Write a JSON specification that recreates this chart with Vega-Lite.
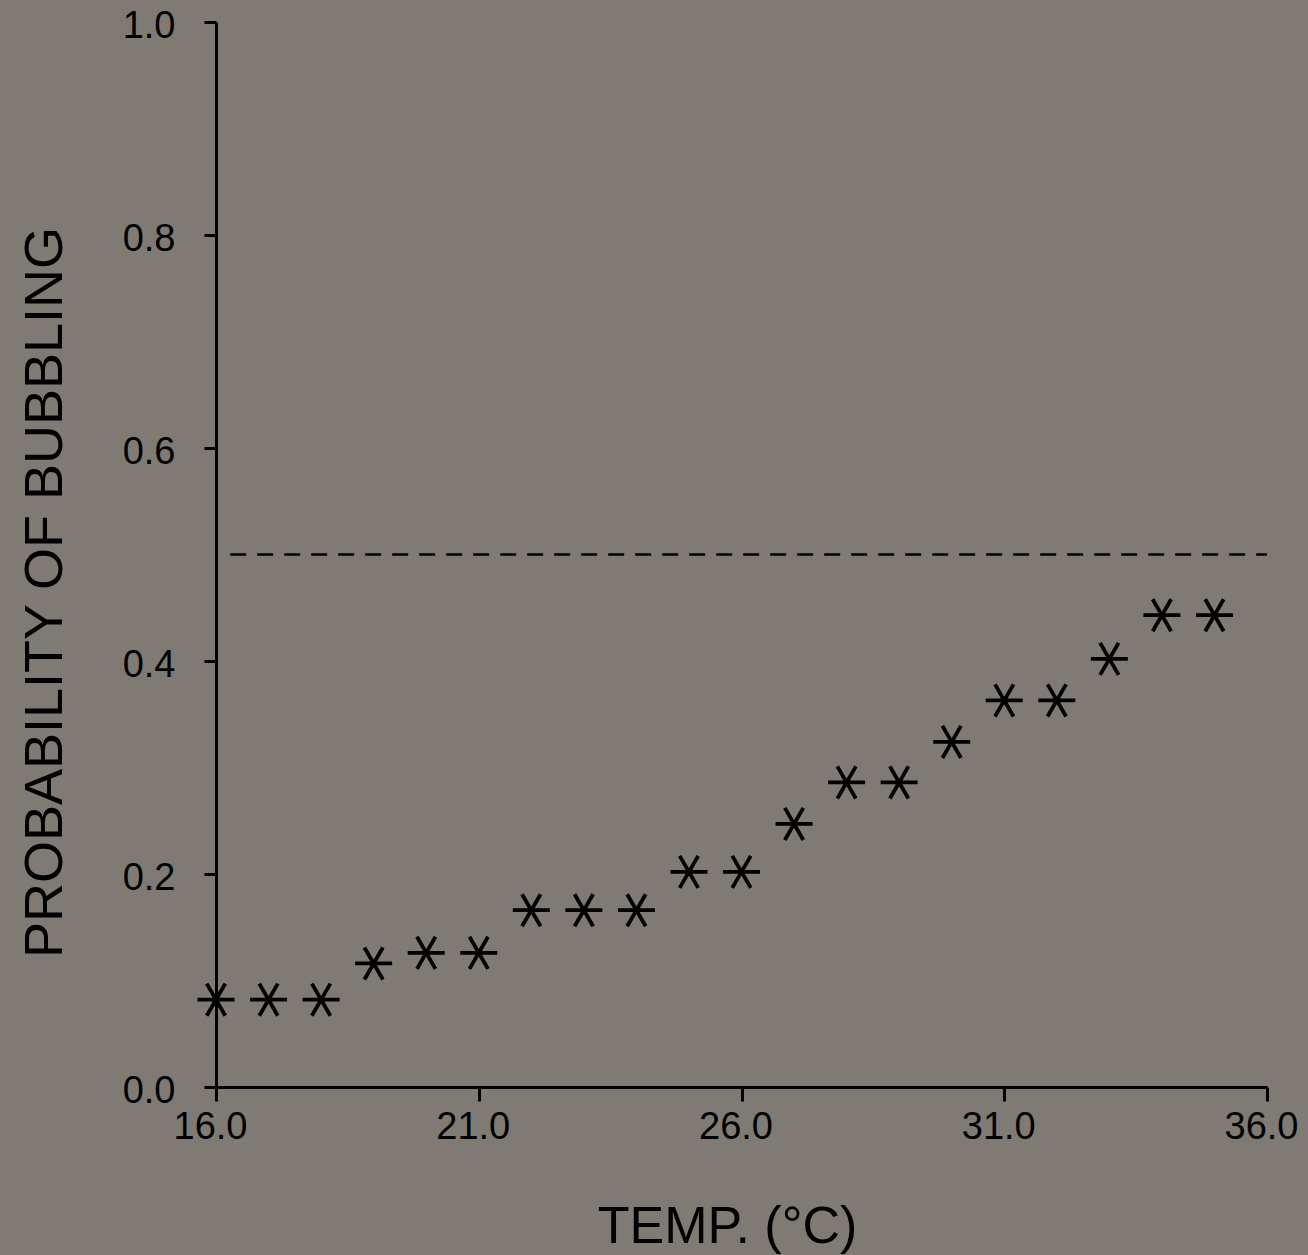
{
  "$schema": "https://vega.github.io/schema/vega-lite/v6.json",
  "width": 1051,
  "height": 1065,
  "autosize": {"type": "none"},
  "padding": {"left": 216, "top": 22, "right": 41, "bottom": 168},
  "background": "#7f7b74",
  "config": {
    "view": {"stroke": null},
    "font": "Liberation Sans",
    "axis": {
      "grid": false,
      "domainColor": "#000000",
      "domainWidth": 3,
      "tickColor": "#000000",
      "tickWidth": 3,
      "labelColor": "#000000",
      "titleColor": "#000000",
      "labelFont": "Liberation Sans",
      "titleFont": "Liberation Sans",
      "titleFontWeight": "normal",
      "labelFontSize": 38,
      "titleFontSize": 52,
      "labelFlush": false
    }
  },
  "datasets": {
    "points": [
      {"temp": 16, "prob": 0.082},
      {"temp": 17, "prob": 0.082},
      {"temp": 18, "prob": 0.082},
      {"temp": 19, "prob": 0.116},
      {"temp": 20, "prob": 0.126},
      {"temp": 21, "prob": 0.126},
      {"temp": 22, "prob": 0.166},
      {"temp": 23, "prob": 0.166},
      {"temp": 24, "prob": 0.166},
      {"temp": 25, "prob": 0.202},
      {"temp": 26, "prob": 0.202},
      {"temp": 27, "prob": 0.247},
      {"temp": 28, "prob": 0.286},
      {"temp": 29, "prob": 0.286},
      {"temp": 30, "prob": 0.324},
      {"temp": 31, "prob": 0.363},
      {"temp": 32, "prob": 0.363},
      {"temp": 33, "prob": 0.402},
      {"temp": 34, "prob": 0.443},
      {"temp": 35, "prob": 0.443}
    ],
    "ref": [{"x1": 16.27, "x2": 36, "y": 0.5}]
  },
  "layer": [
    {
      "data": {"name": "ref"},
      "mark": {"type": "rule", "color": "#000000", "strokeWidth": 2.5, "strokeDash": [16, 11]},
      "encoding": {
        "x": {"field": "x1", "type": "quantitative", "scale": {"domain": [16, 36], "nice": false, "zero": false}},
        "x2": {"field": "x2"},
        "y": {"field": "y", "type": "quantitative", "scale": {"domain": [0, 1], "nice": false}}
      }
    },
    {
      "data": {"name": "points"},
      "mark": {
        "type": "point",
        "shape": "M-1,0L1,0M-0.5,-0.866L0.5,0.866M-0.5,0.866L0.5,-0.866",
        "size": 1369,
        "filled": false,
        "stroke": "#000000",
        "strokeWidth": 3.8,
        "opacity": 1
      },
      "encoding": {
        "x": {
          "field": "temp",
          "type": "quantitative",
          "scale": {"domain": [16, 36], "nice": false, "zero": false},
          "axis": {
            "title": "TEMP. (°C)",
            "values": [16, 21, 26, 31, 36],
            "format": ".1f",
            "tickSize": 14,
            "labelPadding": 7,
            "labelOffset": -6,
            "titleX": 511,
            "titleBaseline": "alphabetic",
            "titleY": 155
          }
        },
        "y": {
          "field": "prob",
          "type": "quantitative",
          "scale": {"domain": [0, 1], "nice": false},
          "axis": {
            "title": "PROBABILITY OF BUBBLING",
            "values": [0, 0.2, 0.4, 0.6, 0.8, 1.0],
            "format": ".1f",
            "tickSize": 12,
            "labelPadding": 29,
            "labelBaseline": "middle",
            "labelOffset": 4,
            "titleX": -171,
            "titleY": 570,
            "titleAngle": -90,
            "titleBaseline": "middle",
            "titleFontSize": 54
          }
        }
      }
    }
  ]
}
